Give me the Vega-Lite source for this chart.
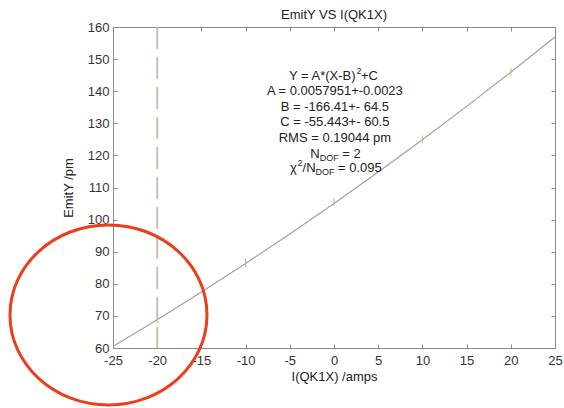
{
  "$schema": "https://vega.github.io/schema/vega-lite/v6.json",
  "width": 442,
  "height": 321,
  "autosize": {"type": "none"},
  "padding": {"left": 113, "top": 27, "right": 9, "bottom": 60},
  "background": "white",
  "title": {"text": "EmitY VS I(QK1X)", "fontSize": 13, "fontWeight": "normal", "font": "Liberation Sans", "color": "#222", "offset": -1, "anchor": "middle"},
  "config": {
    "view": {"stroke": "#8a8a8a", "strokeWidth": 1},
    "axis": {"grid": false, "domainColor": "#8a8a8a", "tickColor": "#8a8a8a", "tickSize": -4, "labelFont": "Liberation Sans", "labelFontSize": 13, "labelColor": "#333", "titleFont": "Liberation Sans", "titleFontSize": 13, "titleFontWeight": "normal", "titleColor": "#222", "labelFlush": false, "labelOverlap": false, "labelBound": false, "labelExpr": "'' + datum.value"}
  },
  "datasets": {
    "fit": [
      {"x": -25, "y": 60.44}, {"x": -20, "y": 68.78}, {"x": -15, "y": 77.41}, {"x": -10, "y": 86.33},
      {"x": -5, "y": 95.54}, {"x": 0, "y": 105.04}, {"x": 5, "y": 114.83}, {"x": 10, "y": 124.90},
      {"x": 15, "y": 135.27}, {"x": 20, "y": 145.93}, {"x": 25, "y": 156.88}
    ],
    "pts": [
      {"x": -20, "lo": 67.8, "hi": 70.2}, {"x": -10, "lo": 85.3, "hi": 87.7}, {"x": 0, "lo": 104.3, "hi": 106.7},
      {"x": 10, "lo": 123.8, "hi": 126.2}, {"x": 20, "lo": 144.8, "hi": 147.2}
    ],
    "vline": [{"x": -20}],
    "notes": [
      {"x": 0.1, "y": 140.0, "t": "A = 0.0057951+-0.0023"},
      {"x": 0.1, "y": 135.0, "t": "B =  -166.41+- 64.5"},
      {"x": 0.1, "y": 130.3, "t": "C =  -55.443+- 60.5"},
      {"x": 0.1, "y": 125.3, "t": "RMS =  0.19044 pm"}
    ],
    "big": [
      {"x": -5.09, "y": 144.7, "t": "Y = A*(X-B)"},
      {"x": 3.05, "y": 144.7, "t": "+C"},
      {"x": -2.68, "y": 120.5, "t": "N"},
      {"x": 0.94, "y": 120.5, "t": "= 2"},
      {"x": -4.98, "y": 116.2, "t": "χ"},
      {"x": -3.56, "y": 116.2, "t": "/N"},
      {"x": 0.46, "y": 116.2, "t": "= 0.095"}
    ],
    "small": [
      {"x": 2.55, "y": 146.2, "t": "2"},
      {"x": -1.62, "y": 119.2, "t": "DOF"},
      {"x": -4.13, "y": 117.7, "t": "2"},
      {"x": -2.09, "y": 114.9, "t": "DOF"}
    ],
    "ring": [{"x": -25.51, "y": 70.3}]
  },
  "layer": [
    {
      "data": {"name": "fit"},
      "mark": {"type": "line", "color": "#a0a0a0", "strokeWidth": 1.2},
      "encoding": {
        "x": {"field": "x", "type": "quantitative", "scale": {"domain": [-25, 25], "nice": false},
          "axis": {"orient": "bottom", "values": [-25, -20, -15, -10, -5, 0, 5, 10, 15, 20, 25], "title": "I(QK1X) /amps", "labelPadding": 10, "titlePadding": 3}},
        "y": {"field": "y", "type": "quantitative", "scale": {"domain": [60, 160], "zero": false, "nice": false},
          "axis": {"orient": "left", "values": [60, 70, 80, 90, 100, 110, 120, 130, 140, 150, 160], "title": "EmitY /pm", "labelPadding": 8, "titlePadding": 12}}
      }
    },
    {
      "data": {"name": "vline"},
      "mark": {"type": "rule", "color": "#cbbfae", "strokeWidth": 2, "strokeDash": [22, 8]},
      "encoding": {"x": {"field": "x", "type": "quantitative", "axis": null}}
    },
    {
      "data": {"name": "pts"},
      "mark": {"type": "rule", "color": "#c6bd84", "strokeWidth": 1.2},
      "encoding": {
        "x": {"field": "x", "type": "quantitative", "axis": {"orient": "top", "labels": false, "title": null, "values": [-25, -20, -15, -10, -5, 0, 5, 10, 15, 20, 25]}},
        "y": {"field": "lo", "type": "quantitative", "axis": {"orient": "right", "labels": false, "title": null, "values": [60, 70, 80, 90, 100, 110, 120, 130, 140, 150, 160]}},
        "y2": {"field": "hi"}
      }
    },
    {
      "data": {"name": "notes"},
      "mark": {"type": "text", "font": "Liberation Sans", "fontSize": 13, "color": "#222", "align": "center", "baseline": "middle"},
      "encoding": {
        "x": {"field": "x", "type": "quantitative", "axis": null},
        "y": {"field": "y", "type": "quantitative", "axis": null},
        "text": {"field": "t"}
      }
    },
    {
      "data": {"name": "big"},
      "mark": {"type": "text", "font": "Liberation Sans", "fontSize": 13, "color": "#222", "align": "left", "baseline": "middle"},
      "encoding": {
        "x": {"field": "x", "type": "quantitative", "axis": null},
        "y": {"field": "y", "type": "quantitative", "axis": null},
        "text": {"field": "t"}
      }
    },
    {
      "data": {"name": "small"},
      "mark": {"type": "text", "font": "Liberation Sans", "fontSize": 9, "color": "#222", "align": "left", "baseline": "middle"},
      "encoding": {
        "x": {"field": "x", "type": "quantitative", "axis": null},
        "y": {"field": "y", "type": "quantitative", "axis": null},
        "text": {"field": "t"}
      }
    },
    {
      "data": {"name": "ring"},
      "mark": {"type": "point", "filled": false, "shape": "M -1 0 A 1 0.914 0 1 1 1 0 A 1 0.914 0 1 1 -1 0 Z", "size": 38809, "stroke": "#ec3d1c", "strokeWidth": 3, "opacity": 1},
      "encoding": {
        "x": {"field": "x", "type": "quantitative", "axis": null},
        "y": {"field": "y", "type": "quantitative", "axis": null}
      }
    }
  ],
  "resolve": {"axis": {"x": "independent", "y": "independent"}}
}
